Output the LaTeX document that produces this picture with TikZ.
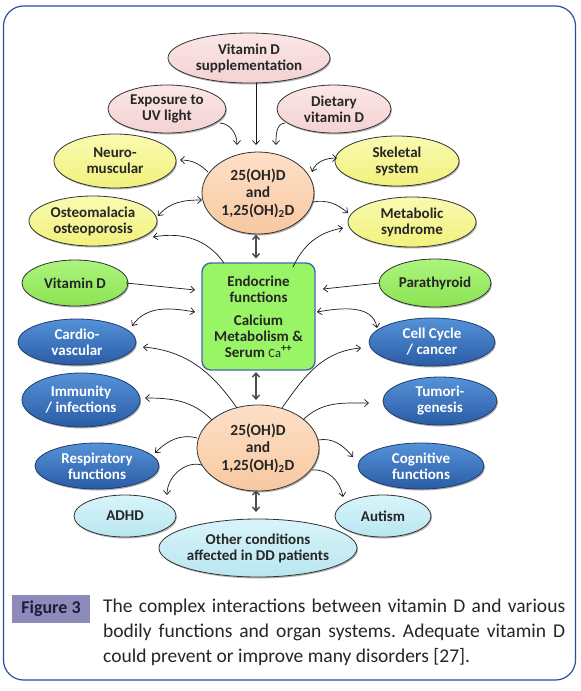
\documentclass[tikz,border=0pt]{standalone}
\usepackage{fontspec}
\setmainfont{Carlito}
\usetikzlibrary{shapes.geometric,arrows.meta,shadows}
\definecolor{tdark}{HTML}{262626}
\definecolor{edge}{HTML}{333333}
\definecolor{pinkT}{HTML}{FBE6E6}
\definecolor{pinkB}{HTML}{F4D2D2}
\definecolor{yelT}{HTML}{FAFAB2}
\definecolor{yelB}{HTML}{F1F17C}
\definecolor{peachT}{HTML}{FDE0C8}
\definecolor{peachB}{HTML}{F8C8A0}
\definecolor{grnT}{HTML}{ACF57E}
\definecolor{grnB}{HTML}{8CE352}
\definecolor{boxfill}{HTML}{99F566}
\definecolor{boxedge}{HTML}{3F6CA8}
\definecolor{cyanT}{HTML}{D8F4FA}
\definecolor{cyanB}{HTML}{B9E6F0}
\definecolor{bluT}{HTML}{5592D8}
\definecolor{bluB}{HTML}{2A5CA6}
\definecolor{bluedge}{HTML}{1F3C6E}
\definecolor{framec}{HTML}{2E4D9B}
\definecolor{figbox}{HTML}{8D8BBA}
\definecolor{figtxt}{HTML}{1C1C3C}
\definecolor{ark}{HTML}{1A1A1A}
\definecolor{varc}{HTML}{4D4D4D}
\frenchspacing
\begin{document}
\begin{tikzpicture}[x=1pt,y=1pt,
  txt/.style={font=\bfseries\fontsize{15}{16}\selectfont, text=tdark, align=center},
  ctxt/.style={font=\bfseries\fontsize{15.5}{17.5}\selectfont, text=tdark, align=center},
  ell/.style={ellipse, draw=edge, line width=0.8pt, inner sep=0pt, txt,
    drop shadow={shadow xshift=1pt, shadow yshift=-1.5pt, opacity=0.3, fill=black}},
  pinkn/.style={ell, top color=pinkT, bottom color=pinkB},
  yeln/.style={ell, top color=yelT, bottom color=yelB},
  grnn/.style={ell, top color=grnT, bottom color=grnB},
  cyann/.style={ell, top color=cyanT, bottom color=cyanB},
  bluen/.style={ell, draw=bluedge, top color=bluT, bottom color=bluB, text=white},
  circn/.style={ell, ctxt, top color=peachT, bottom color=peachB},
  boxn/.style={rectangle, draw=boxedge, line width=1.4pt, fill=boxfill, rounded corners=9pt,
    txt, inner sep=0pt},
  arr/.style={draw=ark, line width=0.7pt, -{Straight Barb[length=4pt,width=7pt]}},
  darr/.style={draw=ark, line width=0.7pt, {Straight Barb[length=4pt,width=7pt]}-{Straight Barb[length=4pt,width=7pt]}},
  varr/.style={draw=varc, line width=1.4pt, {Straight Barb[length=4pt,width=7pt]}-{Straight Barb[length=4pt,width=7pt]}},
  capfont/.style={font=\fontsize{19.5}{25}\selectfont, text=tdark}
]
\fill[white] (0,0) rectangle (581,-691);
\useasboundingbox (0,0) rectangle (581,-691);
\draw[framec, line width=1.2pt, rounded corners=20pt] (3.5,-6) rectangle (575.5,-680);

% nodes
\node[pinkn, minimum width=162pt, minimum height=50pt] (sup) at (249,-58) {Vitamin D\\supplementation};
\node[pinkn, minimum width=118pt, minimum height=48pt] (uv) at (167,-109) {Exposure to\\UV light};
\node[pinkn, minimum width=114pt, minimum height=48pt] (diet) at (334,-109) {Dietary\\vitamin D};
\node[yeln, minimum width=122pt, minimum height=54pt] (neuro) at (115,-161) {Neuro-\\muscular};
\node[yeln, minimum width=124pt, minimum height=50pt] (skel) at (397,-161) {Skeletal\\system};
\node[circn, minimum width=112pt, minimum height=82pt] (c1) at (258,-193) {25(OH)D\\and\\1,25(OH)\textsubscript{2}D};
\node[yeln, minimum width=128pt, minimum height=50pt] (osteo) at (93,-221) {Osteomalacia\\osteoporosis};
\node[yeln, minimum width=128pt, minimum height=50pt] (metab) at (412,-222) {Metabolic\\syndrome};
\node[boxn, minimum width=113pt, minimum height=107pt] (box) at (258.5,-316.5)
  {Endocrine\\functions\\[7pt]Calcium\\Metabolism \&\\Serum {\mdseries\fontsize{12.5}{14}\selectfont Ca}\textsuperscript{++}};
\node[grnn, minimum width=106pt, minimum height=46pt] (vitd) at (75,-283) {Vitamin D};
\node[grnn, minimum width=112pt, minimum height=48pt] (para) at (435,-283) {Parathyroid};
\node[bluen, minimum width=118pt, minimum height=46pt] (cardio) at (77,-342) {Cardio-\\vascular};
\node[bluen, minimum width=126pt, minimum height=48pt] (cell) at (432,-342) {Cell Cycle\\/ cancer};
\node[bluen, minimum width=118pt, minimum height=54pt] (immun) at (81,-400) {Immunity\\/ infections};
\node[bluen, minimum width=114pt, minimum height=48pt] (tumor) at (440,-401) {Tumori-\\genesis};
\node[circn, minimum width=122pt, minimum height=86pt] (c2) at (258,-448) {25(OH)D\\and\\1,25(OH)\textsubscript{2}D};
\node[bluen, minimum width=124pt, minimum height=46pt] (resp) at (97,-466) {Respiratory\\functions};
\node[bluen, minimum width=126pt, minimum height=46pt] (cogn) at (421,-466) {Cognitive\\functions};
\node[cyann, minimum width=102pt, minimum height=42pt] (adhd) at (125,-516) {ADHD};
\node[cyann, minimum width=96pt, minimum height=42pt] (autism) at (383,-516) {Autism};
\node[cyann, minimum width=198pt, minimum height=58pt, inner xsep=-3pt] (other) at (258,-548) {Other conditions\\affected in DD patients};

% connectors
\draw[arr] ([shift={(7,-25)}]sup.center) -- ([shift={(-2,48)}]c1.center);
\draw[arr] ([shift={(53,-14)}]uv.center) to[out=-5,in=90] ([shift={(-21,48)}]c1.center);
\draw[arr] ([shift={(-49,-14)}]diet.center) to[out=185,in=90] ([shift={(18,48)}]c1.center);
\draw[arr] ([shift={(-50,21)}]c1.center) to[out=135,in=0] ([shift={(65,1)}]neuro.center);
\draw[darr] ([shift={(65,5)}]osteo.center) to[out=50,in=180] ([shift={(-56,-7)}]c1.center);
\draw[arr] ([shift={(-34.5,53.5)}]box.center) to[out=125,in=10] ([shift={(60,-16)}]osteo.center);
\draw[darr] ([shift={(54,21)}]c1.center) to[out=70,in=180] ([shift={(-60,3)}]skel.center);
\draw[arr] ([shift={(55,-9)}]c1.center) to[out=10,in=140] ([shift={(-64,9)}]metab.center);
\draw[arr] ([shift={(34.5,49.5)}]box.center) to[out=65,in=190] ([shift={(-69,-6)}]metab.center);
\draw[varr] ([shift={(-2,-41.5)}]c1.center) -- ([shift={(-2.5,58)}]box.center);
\draw[arr] ([shift={(51,0)}]vitd.center) -- ([shift={(-63.5,26.5)}]box.center);
\draw[arr] ([shift={(-56,0)}]para.center) -- ([shift={(64.5,27.5)}]box.center);
\draw[darr] ([shift={(55,16)}]cardio.center) to[out=55,in=170] ([shift={(-63.5,4.5)}]box.center);
\draw[darr] ([shift={(58.5,4.5)}]box.center) to[out=10,in=100] ([shift={(-55,14)}]cell.center);
\draw[arr] ([shift={(-21,40)}]c2.center) to[out=125,in=-5] ([shift={(66,-5)}]cardio.center);
\draw[arr] ([shift={(24,40)}]c2.center) to[out=55,in=185] ([shift={(-71,-6)}]cell.center);
\draw[varr] ([shift={(-2.5,-55.5)}]box.center) -- ([shift={(-2,48)}]c2.center);
\draw[arr] ([shift={(-46,28)}]c2.center) to[out=135,in=0] ([shift={(64,2)}]immun.center);
\draw[arr] ([shift={(45,28)}]c2.center) to[out=45,in=180] ([shift={(-71,-2)}]tumor.center);
\draw[arr] ([shift={(-61,10)}]c2.center) to[out=165,in=45] ([shift={(58,13)}]resp.center);
\draw[arr] ([shift={(-56,-17)}]c2.center) to[out=165,in=90] ([shift={(42,21)}]adhd.center);
\draw[arr] ([shift={(60,8)}]c2.center) to[out=10,in=130] ([shift={(-68,9)}]cogn.center);
\draw[arr] ([shift={(54,-22)}]c2.center) to[out=5,in=100] ([shift={(-40,19)}]autism.center);
\draw[varr] ([shift={(-2,-42)}]c2.center) -- ([shift={(-2,36)}]other.center);

% caption
\node[fill=figbox, minimum width=78pt, minimum height=28pt, inner sep=0pt,
  font=\bfseries\fontsize{18}{20}\selectfont, text=figtxt] (figlbl) at (51,-609) {Figure 3};
\node[capfont, anchor=base west, inner sep=0pt] (cap1) at (103,-612)
  {\makebox[462pt][s]{The complex interactions between vitamin D and various}};
\node[capfont, anchor=base west, inner sep=0pt] (cap2) at (103,-637)
  {\makebox[462pt][s]{bodily functions and organ systems. Adequate vitamin D}};
\node[capfont, anchor=base west, inner sep=0pt] (cap3) at (103,-662)
  {could prevent or improve many disorders [27].};
\end{tikzpicture}
\end{document}
